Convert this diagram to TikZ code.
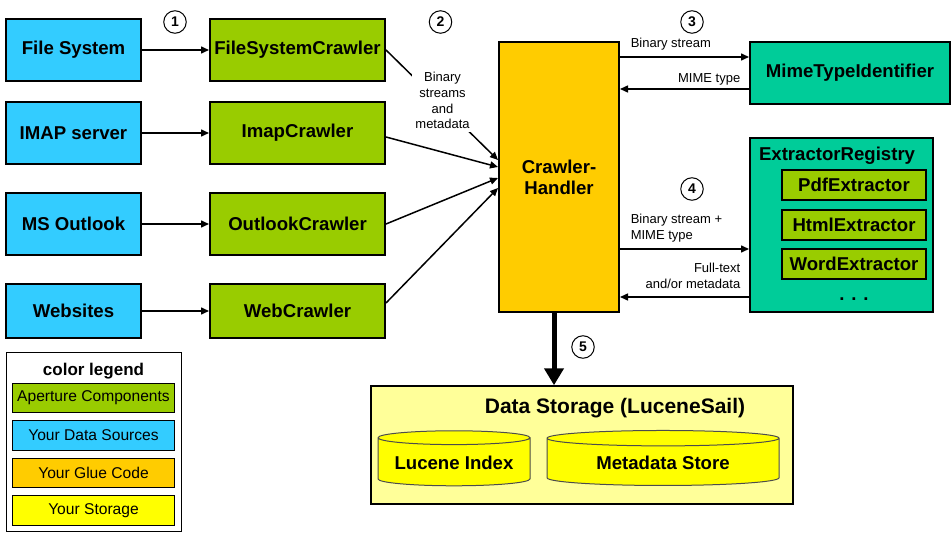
\documentclass[tikz,border=0pt]{standalone}
\usepackage{fontspec}
\setmainfont{Liberation Sans}
\usetikzlibrary{positioning, arrows.meta, shapes.geometric}
\definecolor{srcblue}{HTML}{33CCFF}
\definecolor{apgreen}{HTML}{99CC00}
\definecolor{gluecol}{HTML}{FFCC00}
\definecolor{regteal}{HTML}{00CC99}
\definecolor{storyellow}{HTML}{FFFF00}
\definecolor{dsyellow}{HTML}{FFFF99}
\begin{document}
\begin{tikzpicture}[x=1pt, y=-1pt,
    box/.style={draw, line width=2pt, inner sep=2pt, align=center, font=\bfseries\fontsize{18.6}{21}\selectfont},
    source/.style={box, fill=srcblue, minimum width=135pt, minimum height=62pt},
    crawler/.style={box, fill=apgreen, minimum width=175pt, minimum height=62pt},
    extractor/.style={box, fill=apgreen, minimum width=144pt, minimum height=30pt},
    num/.style={circle, draw, line width=1pt, minimum size=22.5pt, inner sep=0pt, font=\bfseries\fontsize{14}{14}\selectfont},
    lbl/.style={inner sep=0pt, font=\fontsize{13}{15.7}\selectfont},
    store/.style={cylinder, shape border rotate=90, aspect=0.11, draw=black!70, line width=1pt, fill=storyellow, font=\bfseries\fontsize{18.6}{21}\selectfont},
    legentry/.style={draw, line width=1pt, minimum width=162.5pt, minimum height=29.5pt, font=\fontsize{15.6}{18}\selectfont},
    arr/.style={-{Triangle[length=8pt, width=7pt]}, line width=1.5pt},
    bigarr/.style={-{Triangle[length=17pt, width=19pt]}, line width=5pt}]
        \useasboundingbox (0,0) rectangle (952,537);
        \node[source] (fs) at (73.5,50) {File System};
        \node[source] (imap) at (73.5,133) {IMAP server};
        \node[source] (outlook) at (73.5,224) {MS Outlook};
        \node[source, minimum height=54pt] (web) at (73.5,311) {Websites};
        \node[crawler, right=67pt of fs] (fsc) {FileSystemCrawler};
        \node[crawler, right=67pt of imap] (imapc) {ImapCrawler};
        \node[crawler, right=67pt of outlook] (outlookc) {OutlookCrawler};
        \node[crawler, minimum height=54pt, right=67pt of web] (webc) {WebCrawler};
        %---------------------------
        \node[box, fill=gluecol, minimum width=120pt, minimum height=270pt] (ch) at (559,177) {Crawler-\\Handler};
        \node[box, fill=regteal, minimum width=200pt, minimum height=62pt] (mime) at (850,73) {MimeTypeIdentifier};
        \node[box, fill=regteal, minimum width=183pt, minimum height=174pt] (reg) at (841.5,225) {};
        \node[box, draw=none, inner sep=0pt, below right=9pt and 9pt of reg.north west] (regtitle) {ExtractorRegistry};
        \node[extractor] (pdf) at (854,185) {PdfExtractor};
        \node[extractor, below=8pt of pdf] (html) {HtmlExtractor};
        \node[extractor, below=7pt of html] (word) {WordExtractor};
        \node[box, draw=none, inner sep=0pt, below=17pt of word] (dots) {. . .};
        %---------------------------
        \node[box, line width=1.5pt, fill=dsyellow, minimum width=422pt, minimum height=118pt] (ds) at (582,445) {};
        \node[box, draw=none, font=\bfseries\fontsize{21}{24}\selectfont] (dstitle) at (615,408) {Data Storage (LuceneSail)};
        \node[store, minimum width=152pt, minimum height=55pt] (lucene) at (454,463) {Lucene Index};
        \node[store, minimum width=232pt, minimum height=55pt, right=16pt of lucene] (meta) {Metadata Store};
        %---------------------------
        \node[draw, line width=1pt, minimum width=175pt, minimum height=179pt] (legend) at (93.5,441.5) {};
        \node[inner sep=0pt, font=\bfseries\fontsize{17}{20}\selectfont, below=11pt of legend.north] (legtitle) {color legend};
        \node[legentry, fill=apgreen, below=4pt of legtitle] (legap) {Aperture Components};
        \node[legentry, fill=srcblue, below=7pt of legap] (legsrc) {Your Data Sources};
        \node[legentry, fill=gluecol, below=7pt of legsrc] (legglue) {Your Glue Code};
        \node[legentry, fill=storyellow, below=7pt of legglue] (legstore) {Your Storage};
        %---------------------------
        \node[num] (n1) at (175,22) {1};
        \node[num] (n2) at (440.5,22) {2};
        \node[num] (n3) at (692,22) {3};
        \node[num] (n4) at (692,189) {4};
        \node[num] (n5) at (583,347) {5};
        %---------------------------
        \path[arr]
        (fs) edge (fsc)
        (imap) edge (imapc)
        (outlook) edge (outlookc)
        (web) edge (webc);
        \draw[arr] (fsc.east) -- node[lbl, pos=0.46, xshift=5pt, fill=white, inner sep=3pt, align=center] {Binary\\streams\\and\\metadata} ([yshift=17pt]ch.west);
        \draw[arr] ([yshift=-4pt]imapc.east) -- ([yshift=10pt]ch.west);
        \draw[arr] (outlookc.east) -- ([yshift=-1pt]ch.west);
        \draw[arr] ([yshift=8pt]webc.east) -- ([yshift=-11pt]ch.west);
        %---------------------------
        \draw[arr] ([yshift=16pt]mime.west -| ch.east) -- node[lbl, pos=0, above right=6pt and 10pt] {Binary stream} ([yshift=16pt]mime.west);
        \draw[arr] ([yshift=-16pt]mime.west) -- node[lbl, pos=0, above left=3pt and 8pt] {MIME type} ([yshift=-16pt]mime.west -| ch.east);
        \draw[arr] ([yshift=-24pt]reg.west -| ch.east) -- node[lbl, pos=0, above right=6pt and 10pt, align=left] {Binary stream +\\MIME type} ([yshift=-24pt]reg.west);
        \draw[arr] ([yshift=-72pt]reg.west) -- node[lbl, pos=0, above left=8pt and 8pt, align=right] {Full-text\\and/or metadata} ([yshift=-72pt]reg.west -| ch.east);
        \draw[bigarr] ([xshift=-5pt]ch.south) -- ([xshift=-5pt]ch.south |- ds.north);
\end{tikzpicture}
\end{document}
